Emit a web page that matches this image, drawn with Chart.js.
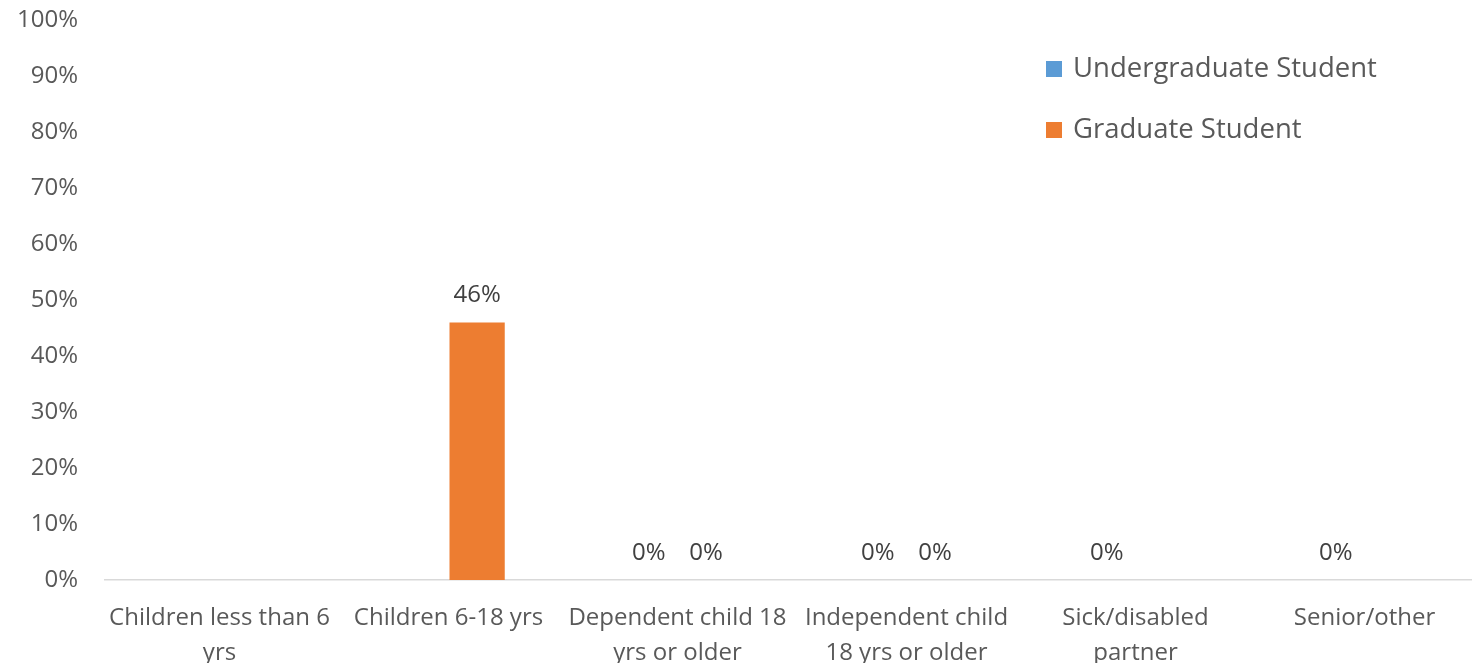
<!DOCTYPE html>
<html>
<head>
<meta charset="utf-8">
<script src="https://cdn.jsdelivr.net/npm/chart.js@4"></script>
<style>
  html, body { margin: 0; padding: 0; background: #fff; overflow: hidden; }
  #wrap { position: absolute; left: 0; top: 0; width: 1479px; height: 663px; }
</style>
</head>
<body>
<div id="wrap"><canvas id="chart"></canvas></div>
<script>
// Chart data
const categories = [
    ['Children less than 6', 'yrs'],
    ['Children 6-18 yrs'],
    ['Dependent child 18', 'yrs or older'],
    ['Independent child', '18 yrs or older'],
    ['Sick/disabled', 'partner'],
    ['Senior/other']
];
const undergraduate = [null, null, 0, 0, 0, 0];
const graduate = [null, 46, 0, 0, null, null];
const seriesNames = ['Undergraduate Student', 'Graduate Student'];
const seriesColors = ['#5B9BD5', '#ED7D31'];
const yTicks = [0, 10, 20, 30, 40, 50, 60, 70, 80, 90, 100];

const textColor = '#595959';
const fontFamily = '"Open Sans", sans-serif';

// Value labels above each bar
const valueLabels = {
    id: 'valueLabels',
    afterDatasetsDraw(chart) {
        const ctx = chart.ctx;
        ctx.save();
        ctx.font = '24px ' + fontFamily;
        ctx.fillStyle = '#404040';
        ctx.textAlign = 'center';
        ctx.textBaseline = 'middle';
        chart.data.datasets.forEach(function(ds, i) {
            chart.getDatasetMeta(i).data.forEach(function(bar, j) {
                const v = ds.data[j];
                if (v === null) return;
                ctx.fillText(v + '%', bar.x, bar.y - 27);
            });
        });
        ctx.restore();
    }
};

// Legend drawn over the plot, top right
const floatLegend = {
    id: 'floatLegend',
    afterDraw(chart) {
        const ctx = chart.ctx;
        ctx.save();
        ctx.font = '27.5px ' + fontFamily;
        ctx.textBaseline = 'middle';
        chart.data.datasets.forEach(function(ds, i) {
            const y = 69 + i * 61;
            ctx.fillStyle = ds.backgroundColor;
            ctx.fillRect(1046, y - 8, 16, 16);
            ctx.fillStyle = textColor;
            ctx.fillText(ds.label, 1073, y);
        });
        ctx.restore();
    }
};

new Chart(document.getElementById('chart'), {
    type: 'bar',
    data: {
        labels: categories,
        datasets: [
            { label: seriesNames[0], data: undergraduate, backgroundColor: seriesColors[0] },
            { label: seriesNames[1], data: graduate, backgroundColor: seriesColors[1] }
        ]
    },
    options: {
        responsive: true,
        maintainAspectRatio: false,
        animation: false,
        categoryPercentage: 0.5,
        barPercentage: 0.965,
        layout: { padding: 0 },
        plugins: {
            legend: { display: false },
            tooltip: { enabled: false }
        },
        scales: {
            x: {
                grid: { display: false },
                border: { color: '#D9D9D9', width: 1.5 },
                afterFit(axis) { axis.height = 83; },
                ticks: {
                    color: textColor,
                    font: { family: fontFamily, size: 24, lineHeight: 1.46 },
                    padding: 13,
                    maxRotation: 0,
                    autoSkip: false
                }
            },
            y: {
                min: 0,
                max: 100,
                afterBuildTicks(axis) {
                    axis.ticks = yTicks.map(function(v) { return { value: v }; });
                },
                afterFit(axis) {
                    axis.width = 105;
                    axis.paddingTop = 20;
                    axis.paddingBottom = 0;
                },
                grid: { display: false },
                border: { display: false },
                ticks: {
                    color: textColor,
                    font: { family: fontFamily, size: 24 },
                    padding: 19,
                    callback: function(v) { return v + '%'; }
                }
            }
        }
    },
    plugins: [valueLabels, floatLegend]
});
</script>
</body>
</html>
